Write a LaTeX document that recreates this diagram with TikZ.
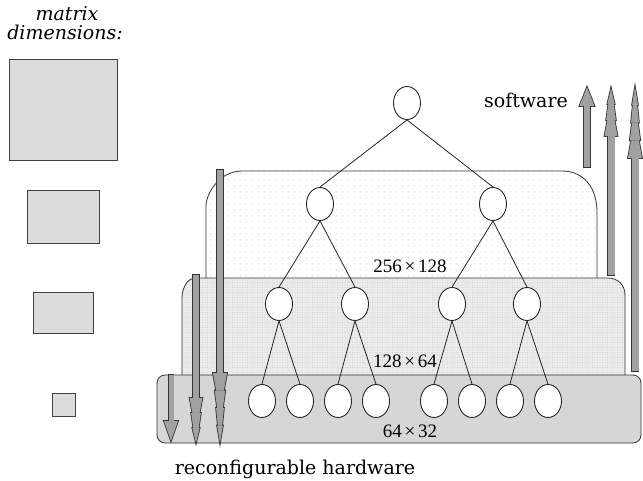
\documentclass[tikz,border=0pt]{standalone}
\usepackage{fontspec}
\setmainfont{DejaVu Serif}
\newfontfamily\numfont{Liberation Serif}
\usetikzlibrary{shapes.geometric,patterns.meta}

% #1 x, #2 tail y, #3 tip y, #4 head length, #5 segments, #6 shaft half width, #7 head half width, #8 style
\newcommand\garrowshape[8]{%
  \pgfmathsetmacro\gd{(#3>#2) ? 1 : -1}%
  \pgfmathsetmacro\gb{#3-(\gd)*(#4-0.5)}%
  \path[#8] (#1-#6,#2) rectangle (#1+#6,\gb);
  \foreach \k in {1,...,#5}{%
    \pgfmathsetmacro\gya{#3-(\gd)*#4*(#5-\k+1)/#5}%
    \pgfmathsetmacro\gyb{#3-(\gd)*#4*(#5-\k)/#5}%
    \pgfmathsetmacro\gH{#7*0.75^(\k-1)}%
    \pgfmathsetmacro\gT{(\k<#5) ? 0.55*\gH : 0}%
    \path[#8] (#1-\gH,\gya) -- (#1+\gH,\gya) -- (#1+\gT,\gyb) -- (#1-\gT,\gyb) -- cycle;
  }%
}
\newcommand\garrow[7]{%
  \garrowshape{#1}{#2}{#3}{#4}{#5}{#6}{#7}{arrowout}%
  \garrowshape{#1}{#2}{#3}{#4}{#5}{#6}{#7}{arrowin}%
}

\begin{document}
\begin{tikzpicture}[x=1pt,y=-1pt,
  msq/.style={draw=black!75, fill=black!14, line width=0.8pt},
  layerline/.style={draw=black!80, line width=0.8pt},
  toplayer/.style={layerline, preaction={fill=white}, pattern={Dots[distance=6pt, radius=0.5pt]}, pattern color=black!35},
  midlayer/.style={layerline, preaction={fill=black!8}, pattern={Dots[distance=2.5pt, radius=0.45pt]}, pattern color=black!22},
  botlayer/.style={layerline, fill=black!16, rounded corners=8pt},
  tnode/.style={ellipse, draw=black!85, fill=white, line width=0.9pt, minimum width=27pt, minimum height=33pt, inner sep=0pt},
  tedge/.style={draw=black!85, line width=0.8pt},
  arrowout/.style={draw=black!80, line width=1.6pt, fill=black!37},
  arrowin/.style={fill=black!37},
  lbl/.style={font=\numfont\fontsize{19}{21}\selectfont, anchor=base, inner sep=0pt},
  txt/.style={font=\fontsize{19}{21}\selectfont, anchor=base, inner sep=0pt},
  itxt/.style={font=\itshape\fontsize{19}{21}\selectfont, anchor=base, inner sep=0pt}]
\useasboundingbox (0,0) rectangle (643,480);

% matrix dimension squares
\node[itxt] (m1) at (67,20) {matrix};
\node[itxt] (m2) at (65,39) {dimensions:};
\draw[msq] (9,59) rectangle (117,160);
\draw[msq] (27,190) rectangle (99,243);
\draw[msq] (33,292) rectangle (93,333);
\draw[msq] (52,393) rectangle (75,416);

% layers
\path[toplayer] (206,300) -- (206,205) .. controls (207,192) and (220,171) .. (242,171)
  -- (562,171) .. controls (584,171) and (597,188) .. (597,212) -- (597,300) -- cycle;
\path[midlayer] (182,390) -- (182,298) .. controls (182,290) and (186,278) .. (196,278)
  -- (608,278) .. controls (618,278) and (625,285) .. (625,295) -- (625,390) -- cycle;
\path[botlayer] (157,375) rectangle (641,443);

% labels
\node[lbl] (l1) at (410,272) {256\hspace{0.15em}×\hspace{0.15em}128};
\node[lbl] (l2) at (405,367) {128\hspace{0.15em}×\hspace{0.15em}64};
\node[lbl] (l3) at (410,437) {64\hspace{0.15em}×\hspace{0.15em}32};

% tree
\node[tnode] (r) at (407,103) {};
\node[tnode] (a1) at (320,204) {};
\node[tnode] (a2) at (493,204) {};
\node[tnode] (b1) at (279,304) {};
\node[tnode] (b2) at (355,304) {};
\node[tnode] (b3) at (452,304) {};
\node[tnode] (b4) at (527,304) {};
\node[tnode] (c1) at (262,401) {};
\node[tnode] (c2) at (300,401) {};
\node[tnode] (c3) at (338,401) {};
\node[tnode] (c4) at (376,401) {};
\node[tnode] (c5) at (434,401) {};
\node[tnode] (c6) at (472,401) {};
\node[tnode] (c7) at (510,401) {};
\node[tnode] (c8) at (548,401) {};
\draw[tedge] (r.south) -- (a1.north);
\draw[tedge] (r.south) -- (a2.north);
\draw[tedge] (a1.south) -- (b1.north);
\draw[tedge] (a1.south) -- (b2.north);
\draw[tedge] (a2.south) -- (b3.north);
\draw[tedge] (a2.south) -- (b4.north);
\draw[tedge] (b1.south) -- (c1.north);
\draw[tedge] (b1.south) -- (c2.north);
\draw[tedge] (b2.south) -- (c3.north);
\draw[tedge] (b2.south) -- (c4.north);
\draw[tedge] (b3.south) -- (c5.north);
\draw[tedge] (b3.south) -- (c6.north);
\draw[tedge] (b4.south) -- (c7.north);
\draw[tedge] (b4.south) -- (c8.north);

% software arrows (up)
\garrow{587}{167}{87}{19}{1}{3.3}{7.5}
\garrow{611}{275}{88}{48}{3}{3.5}{6.5}
\garrow{635}{371}{87}{71}{4}{3.5}{7}
% hardware arrows (down)
\garrow{220}{170}{443}{70}{4}{3.2}{7}
\garrow{196}{275}{443}{45}{3}{3.2}{6.5}
\garrow{171}{375}{441}{20}{1}{2.5}{7}

\node[txt] (sw) at (526,107) {software};
\node[txt] (hw) at (295,474) {reconfigurable hardware};
\end{tikzpicture}
\end{document}
